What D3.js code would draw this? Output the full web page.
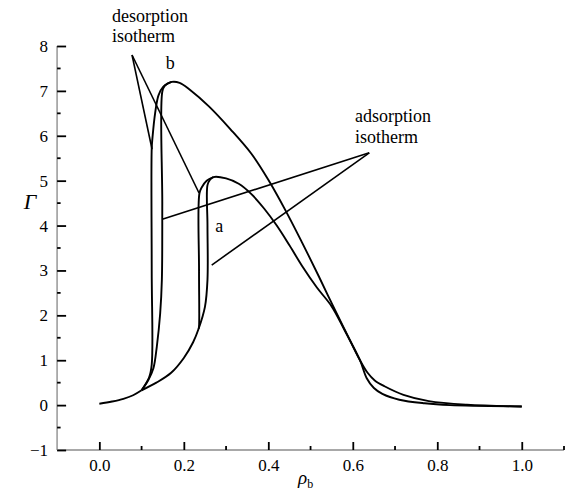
<!DOCTYPE html>
<html><head><meta charset="utf-8">
<script src="https://cdn.jsdelivr.net/npm/d3@7"></script>
<style>body{margin:0;background:#fff}svg{display:block}svg text{font-family:'Liberation Serif', 'Times New Roman', Times, 'DejaVu Serif', serif !important;}</style>
</head><body>
<script>
// ---- data ----
const xTicks = [0.0, 0.2, 0.4, 0.6, 0.8, 1.0];
const yTicks = [-1, 0, 1, 2, 3, 4, 5, 6, 7, 8];
const commonLow = [[0.0,0.03],[0.03,0.08],[0.057,0.14],[0.08,0.22],[0.1,0.33]];
const bAdsorption = [[0.1,0.33],[0.116,0.56],[0.128,0.82],[0.136,1.3],[0.144,2.04],[0.148,2.79],[0.149,4.5],[0.149,6.98],[0.155,7.12],[0.171,7.2],[0.19,7.18],[0.215,7.02],[0.26,6.65],[0.31,6.15],[0.36,5.6],[0.40,5.02],[0.44,4.35],[0.48,3.62],[0.52,2.86],[0.55,2.27],[0.58,1.7],[0.617,1.0],[0.635,0.72],[0.652,0.55],[0.675,0.42],[0.72,0.23],[0.78,0.09],[0.87,0.01],[1.0,-0.03]];
const bDesorption = [[0.171,7.2],[0.151,7.09],[0.14,6.9],[0.132,6.5],[0.126,5.98],[0.124,5.72],[0.124,3.0],[0.124,0.9],[0.118,0.62],[0.1,0.33]];
const aAdsorption = [[0.1,0.33],[0.135,0.5],[0.17,0.72],[0.2,1.05],[0.222,1.4],[0.235,1.7],[0.250,2.19],[0.256,2.79],[0.256,4.0],[0.256,4.9],[0.262,5.02],[0.27,5.08],[0.30,5.05],[0.33,4.93],[0.36,4.7],[0.39,4.38],[0.42,4.0],[0.45,3.56],[0.48,3.1],[0.515,2.62],[0.55,2.2],[0.58,1.68],[0.617,1.0],[0.633,0.6],[0.65,0.38],[0.67,0.25],[0.71,0.12],[0.77,0.04],[0.83,0.0],[1.0,-0.03]];
const aDesorption = [[0.27,5.08],[0.254,5.0],[0.243,4.86],[0.237,4.72],[0.236,3.0],[0.236,1.75],[0.235,1.7]];
const desorptionApex = [0.0774, 7.80];
const desorptionTargets = [[0.1248, 5.70], [0.236, 4.725]];
const adsorptionApex = [0.639, 5.62];
const adsorptionTargets = [[0.149, 4.14], [0.266, 3.12]];
const labels = [{t:"b", x:0.168, y:7.48}, {t:"a", x:0.284, y:3.85}];

// ---- chart ----
const SERIF = "Liberation Serif";
const W = 567, H = 491;
const svg = d3.select("body").append("svg").attr("width", W).attr("height", H);
const x = d3.scaleLinear().domain([-0.1, 1.1]).range([57.1, 564]);
const y = d3.scaleLinear().domain([-1, 8]).range([450, 46]);

// axes lines (gray)
svg.append("line").attr("x1", x(-0.1)).attr("x2", x(1.1)).attr("y1", y(-1)).attr("y2", y(-1))
  .attr("stroke", "#a8a8a8").attr("stroke-width", 1.8);
svg.append("line").attr("x1", x(-0.1)).attr("x2", x(-0.1)).attr("y1", y(-1)).attr("y2", y(8))
  .attr("stroke", "#a8a8a8").attr("stroke-width", 1.8);

// x ticks
const xMinor = [0.1, 0.3, 0.5, 0.7, 0.9, 1.1];
const xAxis = d3.axisBottom(x).tickValues(xTicks).tickFormat(d3.format(".1f")).tickSize(-8).tickPadding(9);
const gx = svg.append("g").attr("transform", `translate(0,${y(-1)})`).call(xAxis);
gx.select(".domain").remove();
gx.attr("font-family", SERIF).attr("font-size", 17);
gx.selectAll(".tick line").attr("stroke", "#000").attr("stroke-width", 1.8);
gx.selectAll(".tick text").attr("font-family", SERIF).attr("font-size", 17).attr("fill", "#000");
svg.append("g").selectAll("line").data(xMinor).join("line")
  .attr("x1", d => x(d)).attr("x2", d => x(d)).attr("y1", y(-1)).attr("y2", y(-1) - 4)
  .attr("stroke", "#000").attr("stroke-width", 1.8);

// y ticks
const yMinor = [-0.5, 0.5, 1.5, 2.5, 3.5, 4.5, 5.5, 6.5, 7.5];
const yAxis = d3.axisLeft(y).tickValues(yTicks).tickFormat(d => d < 0 ? "\u2212" + Math.abs(d) : d).tickSize(-9).tickPadding(9);
const gy = svg.append("g").attr("transform", `translate(${x(-0.1)},0)`).call(yAxis);
gy.select(".domain").remove();
gy.attr("font-family", SERIF).attr("font-size", 17);
gy.selectAll(".tick line").attr("stroke", "#000").attr("stroke-width", 1.8);
gy.selectAll(".tick text").attr("font-family", SERIF).attr("font-size", 17).attr("fill", "#000");
svg.append("g").selectAll("line").data(yMinor).join("line")
  .attr("x1", x(-0.1)).attr("x2", x(-0.1) + 3.5).attr("y1", d => y(d)).attr("y2", d => y(d))
  .attr("stroke", "#000").attr("stroke-width", 1.8);

// curves
const line = d3.line().x(d => x(d[0])).y(d => y(d[1])).curve(d3.curveCatmullRom.alpha(0.5));
[commonLow, bAdsorption, bDesorption, aAdsorption, aDesorption].forEach(s => {
  svg.append("path").attr("d", line(s)).attr("fill", "none").attr("stroke", "#000").attr("stroke-width", 1.9);
});

// annotation lines
const straight = d3.line().x(d => x(d[0])).y(d => y(d[1]));
desorptionTargets.forEach(t => svg.append("path").attr("d", straight([desorptionApex, t])).attr("stroke", "#000").attr("stroke-width", 1.6).attr("fill", "none"));
adsorptionTargets.forEach(t => svg.append("path").attr("d", straight([adsorptionApex, t])).attr("stroke", "#000").attr("stroke-width", 1.6).attr("fill", "none"));

// annotation text
function txt(g, xx, yy, s, size) {
  return g.append("text").attr("x", xx).attr("y", yy).attr("font-family", SERIF).attr("font-size", size).attr("fill", "#000").text(s);
}
const ann = svg.append("g");
txt(ann, 112, 22, "desorption", 18);
txt(ann, 112, 42, "isotherm", 18);
txt(ann, 355, 122, "adsorption", 18);
txt(ann, 355, 143, "isotherm", 18);
labels.forEach(l => txt(ann, x(l.x), y(l.y), l.t, 18).attr("text-anchor", "middle"));

// axis titles
txt(svg, 30, 209, "\u0393", 22).attr("text-anchor", "middle").attr("font-style", "italic");
const xt = txt(svg, 298, 484, "", 19).attr("font-style", "italic");
xt.append("tspan").text("\u03C1");
xt.append("tspan").attr("dy", 4).attr("font-size", 12).attr("font-style", "normal").text("b");
</script>
</body></html>
